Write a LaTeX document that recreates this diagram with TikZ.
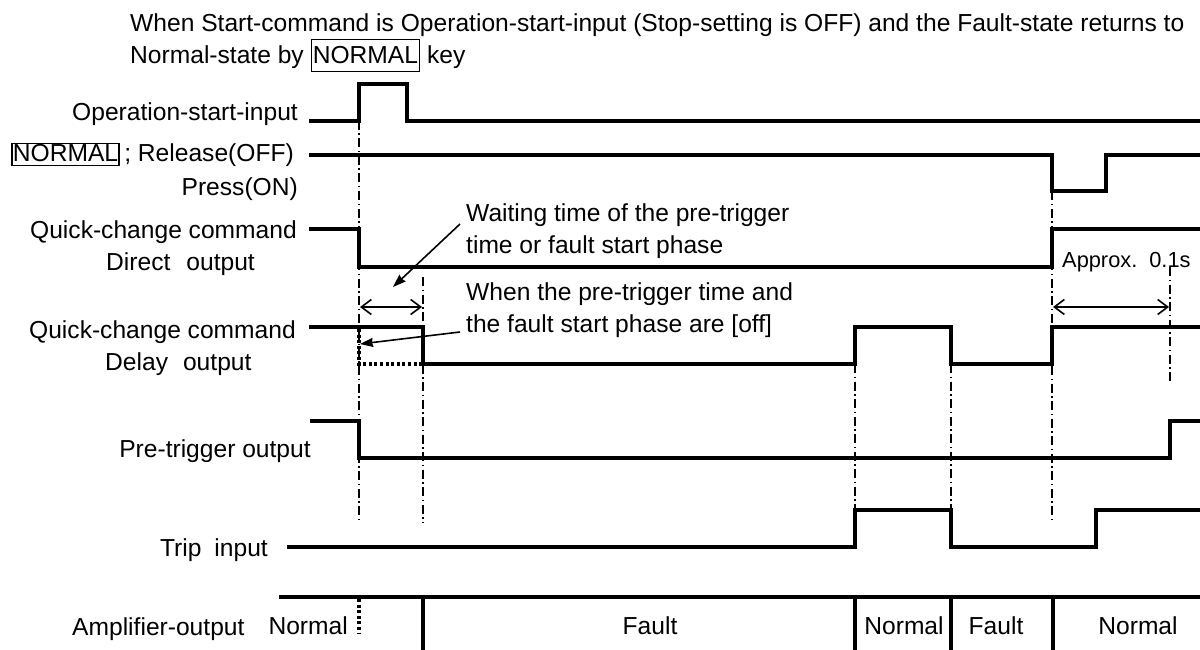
\documentclass[tikz,border=0pt]{standalone}
\usepackage{fontspec}
\setmainfont{Liberation Sans}
\usetikzlibrary{arrows.meta}
\newcommand\keyTop{{\setlength\fboxsep{0.8pt}\setlength\fboxrule{1.4pt}\fbox{\rule[-6pt]{0pt}{29pt}NORMAL}}}
\newcommand\keyLeft{{\setlength\fboxsep{0.3pt}\setlength\fboxrule{1.4pt}\fbox{\rule[-2.5pt]{0pt}{20pt}NORMAL}}}
\begin{document}
\begin{tikzpicture}[x=1pt,y=-1pt,
  sig/.style={line width=3.2pt, line join=miter, line cap=butt},
  guide/.style={line width=1.2pt, dash pattern=on 9pt off 3.5pt on 1.5pt off 3.5pt},
  dots/.style={line width=3.3pt, dash pattern=on 3pt off 2.6pt},
  dim/.style={line width=1.6pt, {Straight Barb[length=10pt,width=15pt]}-{Straight Barb[length=10pt,width=15pt]}},
  note/.style={line width=1.6pt, -{Stealth[length=13pt,width=9pt,inset=1pt]}},
  lbl/.style={font=\fontsize{24.6}{32}\selectfont, inner sep=0pt},
  sml/.style={font=\fontsize{21.8}{26}\selectfont, inner sep=0pt}]
\useasboundingbox (0,0) rectangle (1200,650);

% heading
\node[lbl, anchor=base west] (h1) at (130,31.5) {When Start-command is Operation-start-input (Stop-setting is OFF) and the Fault-state returns to};
\node[lbl, anchor=base west] (h2) at (130,64) {Normal-state by \keyTop{} key};

% signal labels
\node[lbl, anchor=base east] (Lop) at (298,121) {Operation-start-input};
\node[lbl, anchor=base west] (Lkey) at (11,162) {\keyLeft};
\node[lbl, anchor=base east] (Lrel) at (294,162) {; Release(OFF)};
\node[lbl, anchor=base east] (Lpress) at (298,196) {Press(ON)};
\node[lbl, anchor=base east] (Lqc1) at (297,238) {Quick-change command};
\node[lbl, anchor=base west] (Ldir) at (106,270) {Direct\hspace{16pt}output};
\node[lbl, anchor=base east] (Lqc2) at (296,338) {Quick-change command};
\node[lbl, anchor=base west] (Ldel) at (105,370) {Delay\hspace{15pt}output};
\node[lbl, anchor=base] (Lpre) at (215,457) {Pre-trigger output};
\node[lbl, anchor=base east] (Ltrip) at (268,556) {Trip\hspace{13pt}input};
\node[lbl, anchor=base west] (Lamp) at (72,635) {Amplifier-output};

% amplifier states
\node[lbl, anchor=base east] (s1) at (348,634) {Normal};
\node[lbl, anchor=base] (s2) at (650,634) {Fault};
\node[lbl, anchor=base] (s3) at (904,634) {Normal};
\node[lbl, anchor=base] (s4) at (996,634) {Fault};
\node[lbl, anchor=base] (s5) at (1138,634) {Normal};

% guide lines (dash-dot)
\draw[guide] (359,121) -- (359,523);
\draw[guide] (423,277) -- (423,523);
\draw[guide] (855,364) -- (855,510);
\draw[guide] (951,364) -- (951,510);
\draw[guide] (1052,191) -- (1052,523);
\draw[guide] (1170,267) -- (1170,384);

% dotted lines
\draw[dots] (359,329) -- (359,364) -- (423,364);
\draw[dots] (359,599) -- (359,634);

% signals
\draw[sig] (309,121) -- (359,121) -- (359,84) -- (407,84) -- (407,121) -- (1200,121);
\draw[sig] (309,155) -- (1052,155) -- (1052,191) -- (1106,191) -- (1106,155) -- (1200,155);
\draw[sig] (309,229) -- (359,229) -- (359,267) -- (1052,267) -- (1052,229) -- (1200,229);
\draw[sig] (309,327) -- (423,327) -- (423,364) -- (855,364) -- (855,327) -- (951,327) -- (951,364) -- (1052,364) -- (1052,327) -- (1200,327);
\draw[sig] (310,421) -- (359,421) -- (359,458) -- (1170,458) -- (1170,421) -- (1200,421);
\draw[sig] (287,547) -- (855,547) -- (855,510) -- (951,510) -- (951,547) -- (1096,547) -- (1096,510) -- (1200,510);
\draw[sig] (279,597) -- (1200,597);
\foreach \x in {423,855,951,1053} \draw[sig] (\x,597) -- (\x,650);

% dimension arrows
\coordinate (d1a) at (360,307);
\coordinate (d1b) at (422,307);
\draw[dim] (d1a) -- (d1b);
\coordinate (d2a) at (1053,307);
\coordinate (d2b) at (1169,307);
\draw[dim] (d2a) -- (d2b);
\node[sml, anchor=base west] (approx) at (1062,267) {Approx.\hspace{12pt}0.1s};

% annotations
\node[lbl, anchor=base west] (w1) at (466,221) {Waiting time of the pre-trigger};
\node[lbl, anchor=base west] (w2) at (466,253) {time or fault start phase};
\node[lbl, anchor=base west] (o1) at (466,300) {When the pre-trigger time and};
\node[lbl, anchor=base west] (o2) at (466,332) {the fault start phase are [off]};
\coordinate (a1s) at (460,224);
\coordinate (a1e) at (393,287);
\draw[note] (a1s) -- (a1e);
\coordinate (a2s) at (460,332);
\coordinate (a2e) at (360,344);
\draw[note] (a2s) -- (a2e);
\end{tikzpicture}
\end{document}
